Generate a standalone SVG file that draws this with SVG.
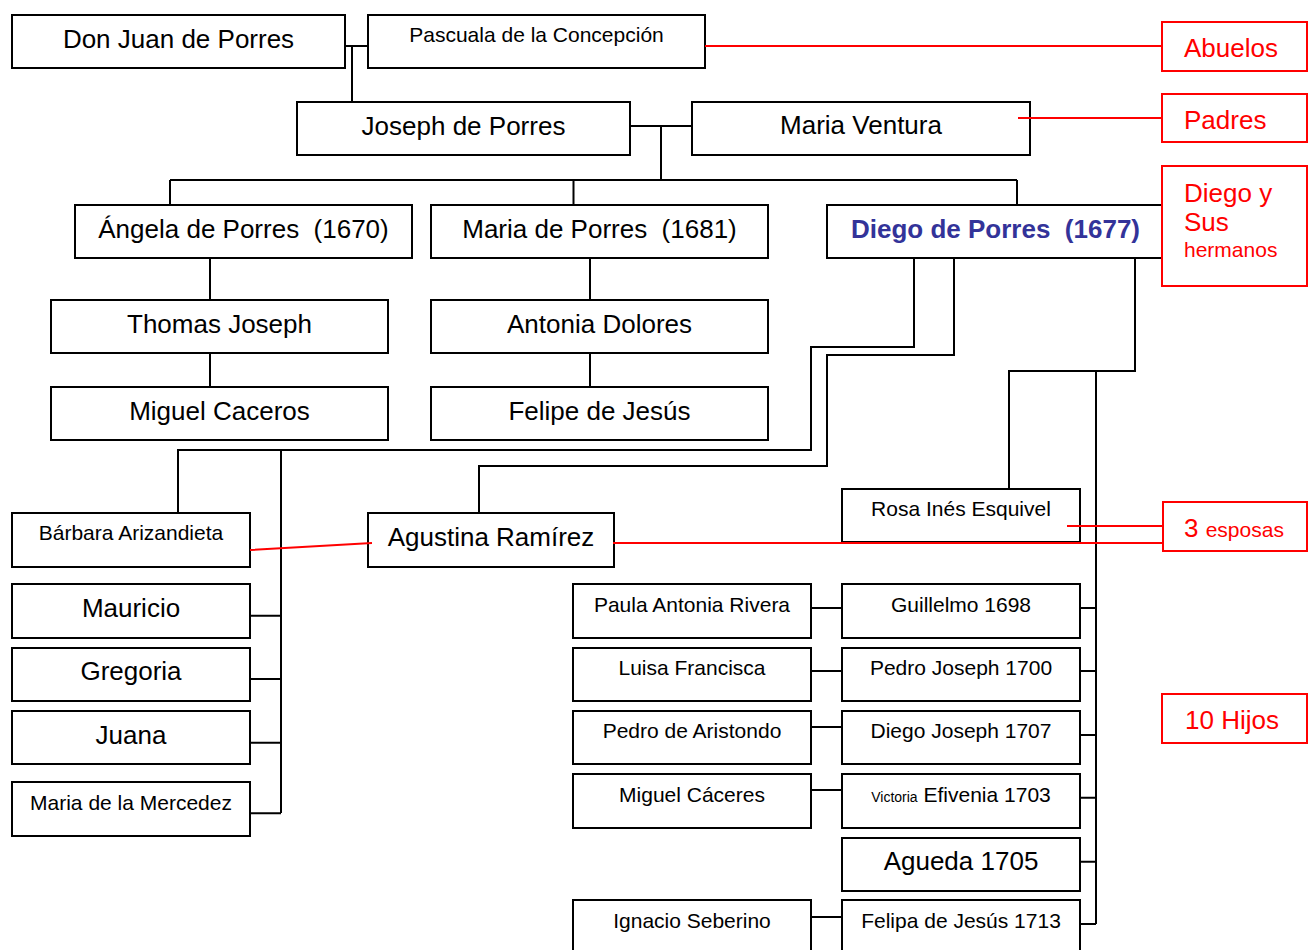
<svg xmlns="http://www.w3.org/2000/svg" width="1308" height="950" viewBox="0 0 1308 950">
<style>
.box{fill:#fff;stroke:#000;stroke-width:2}
.rbox{fill:#fff;stroke:#f00;stroke-width:2}
.ln{fill:none;stroke:#000;stroke-width:2}
.rl{fill:none;stroke:#f00;stroke-width:2}
text{font-family:"Liberation Sans",Arial,sans-serif;fill:#000;white-space:pre}
.L{font-size:26px;text-anchor:middle}
.S{font-size:21px;text-anchor:middle}
.R{fill:#f00;font-size:26px}
.Rs{fill:#f00;font-size:21px}
.diego{font-weight:bold;fill:#333399}
</style>
<rect width="1308" height="950" fill="#fff"/>
<g id="connectors">
<path class="ln" d="M345 46H368M352 46V102"/>
<path class="ln" d="M630 126H692M661 126V180M170 180H1017M170 180V205M573.5 180V205M1017 180V205"/>
<path class="ln" d="M210 258V300M210 353V387M590 258V300M590 353V387"/>
<path class="ln" d="M914 258V347H811V450H178V513M281 450V813"/>
<path class="ln" d="M954 258V355H827V466H479V513"/>
<path class="ln" d="M1135 258V371H1009V489M1096 371V924"/>
<path class="ln" d="M250 615.7H281M250 679H281M250 742.7H281M250 813.3H281"/>
<path class="ln" d="M811 608H842M811 671H842M811 727H842M811 790H842M811 917H842"/>
<path class="ln" d="M1080 608H1096M1080 671H1096M1080 735H1096M1080 797.7H1096M1080 861.7H1096M1080 924H1096"/>
</g>
<g id="n-donjuan"><rect class="box" x="12" y="15" width="333" height="53"/><text class="L" x="178.5" y="48">Don Juan de Porres</text></g>
<g id="n-pascuala"><rect class="box" x="368" y="15" width="337" height="53"/><text class="S" x="536.5" y="42">Pascuala de la Concepción</text></g>
<g id="n-joseph"><rect class="box" x="297" y="102" width="333" height="53"/><text class="L" x="463.5" y="135">Joseph de Porres</text></g>
<g id="n-mventura"><rect class="box" x="692" y="102" width="338" height="53"/><text class="L" x="861" y="134">Maria Ventura</text></g>
<g id="n-angela"><rect class="box" x="75" y="205" width="337" height="53"/><text class="L" x="243.5" y="238">Ángela de Porres  (1670)</text></g>
<g id="n-mariap"><rect class="box" x="431" y="205" width="337" height="53"/><text class="L" x="599.5" y="238">Maria de Porres  (1681)</text></g>
<g id="n-diego"><rect class="box" x="827" y="205" width="337" height="53"/><text class="L diego" x="995.5" y="238">Diego de Porres  (1677)</text></g>
<g id="n-thomas"><rect class="box" x="51" y="300" width="337" height="53"/><text class="L" x="219.5" y="333">Thomas Joseph</text></g>
<g id="n-antonia"><rect class="box" x="431" y="300" width="337" height="53"/><text class="L" x="599.5" y="333">Antonia Dolores</text></g>
<g id="n-miguelcaceros"><rect class="box" x="51" y="387" width="337" height="53"/><text class="L" x="219.5" y="420">Miguel Caceros</text></g>
<g id="n-felipe"><rect class="box" x="431" y="387" width="337" height="53"/><text class="L" x="599.5" y="420">Felipe de Jesús</text></g>
<g id="n-barbara"><rect class="box" x="12" y="513" width="238" height="54"/><text class="S" x="131" y="540">Bárbara Arizandieta</text></g>
<g id="n-agustina"><rect class="box" x="368" y="513" width="246" height="54"/><text class="L" x="491" y="546">Agustina Ramírez</text></g>
<g id="n-rosa"><rect class="box" x="842" y="489" width="238" height="53"/><text class="S" x="961" y="516">Rosa Inés Esquivel</text></g>
<g id="n-mauricio"><rect class="box" x="12" y="584" width="238" height="54"/><text class="L" x="131" y="617">Mauricio</text></g>
<g id="n-gregoria"><rect class="box" x="12" y="648" width="238" height="53"/><text class="L" x="131" y="680">Gregoria</text></g>
<g id="n-juana"><rect class="box" x="12" y="711" width="238" height="53"/><text class="L" x="131" y="744">Juana</text></g>
<g id="n-mercedez"><rect class="box" x="12" y="782" width="238" height="54"/><text class="S" x="131" y="810">Maria de la Mercedez</text></g>
<g id="n-paula"><rect class="box" x="573" y="584" width="238" height="54"/><text class="S" x="692" y="612">Paula Antonia Rivera</text></g>
<g id="n-guillelmo"><rect class="box" x="842" y="584" width="238" height="54"/><text class="S" x="961" y="612">Guillelmo 1698</text></g>
<g id="n-luisa"><rect class="box" x="573" y="648" width="238" height="53"/><text class="S" x="692" y="675">Luisa Francisca</text></g>
<g id="n-pedrojoseph"><rect class="box" x="842" y="648" width="238" height="53"/><text class="S" x="961" y="675">Pedro Joseph 1700</text></g>
<g id="n-aristondo"><rect class="box" x="573" y="711" width="238" height="53"/><text class="S" x="692" y="738">Pedro de Aristondo</text></g>
<g id="n-diegojoseph"><rect class="box" x="842" y="711" width="238" height="53"/><text class="S" x="961" y="738">Diego Joseph 1707</text></g>
<g id="n-miguelcaceres"><rect class="box" x="573" y="774" width="238" height="54"/><text class="S" x="692" y="802">Miguel Cáceres</text></g>
<g id="n-victoria"><rect class="box" x="842" y="774" width="238" height="54"/><text class="S" x="961" y="802"><tspan font-size="14">Victoria</tspan> Efivenia 1703</text></g>
<g id="n-agueda"><rect class="box" x="842" y="838" width="238" height="53"/><text class="L" x="961" y="870">Agueda 1705</text></g>
<g id="n-ignacio"><rect class="box" x="573" y="900" width="238" height="53"/><text class="S" x="692" y="928">Ignacio Seberino</text></g>
<g id="n-felipa"><rect class="box" x="842" y="900" width="238" height="53"/><text class="S" x="961" y="928">Felipa de Jesús 1713</text></g>
<g id="annotation-lines">
<path class="rl" d="M705 46H1162M1018 118H1162M250 550L372 543M613 543H1165M1067 526H1162"/>
</g>
<g id="n-abuelos"><rect class="rbox" x="1162" y="22" width="145" height="49"/><text class="R" x="1184" y="57">Abuelos</text></g>
<g id="n-padres"><rect class="rbox" x="1162" y="94" width="145" height="48"/><text class="R" x="1184" y="129">Padres</text></g>
<g id="n-hermanos"><rect class="rbox" x="1162" y="166" width="145" height="120"/><text class="R" x="1184" y="202">Diego y</text><text class="R" x="1184" y="231">Sus</text><text class="Rs" x="1184" y="257">hermanos</text></g>
<g id="n-esposas"><rect class="rbox" x="1163" y="502" width="144" height="49"/><text class="R" x="1184" y="537">3 <tspan font-size="21">esposas</tspan></text></g>
<g id="n-hijos"><rect class="rbox" x="1162" y="694" width="145" height="49"/><text class="R" x="1185" y="729">10 Hijos</text></g>
</svg>
